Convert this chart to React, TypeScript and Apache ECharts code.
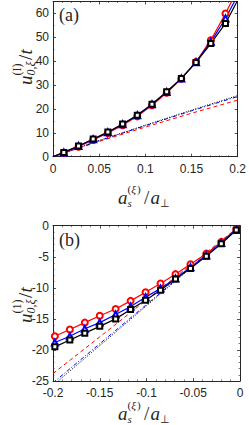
import React, { useEffect, useRef } from "react";
import * as echarts from "echarts";

// Panel (a): positive scattering length
const xA = [0.0117, 0.0276, 0.0435, 0.0594, 0.0754, 0.0913, 0.1072, 0.1231, 0.139, 0.1549, 0.1709, 0.1868];
const aRed = [1.6, 4.2, 7.0, 9.9, 13.2, 16.9, 21.5, 26.8, 32.6, 39.7, 48.8, 60.0];
const aBlue = [1.8, 4.5, 7.3, 10.2, 13.6, 17.4, 22.0, 27.1, 32.8, 39.6, 48.1, 57.9];
const aBlack = [1.8, 4.5, 7.4, 10.3, 13.7, 17.4, 22.0, 27.2, 32.8, 39.5, 47.4, 55.8];
// line continuation beyond the markers (start at origin, end at x=0.2)
const aTailX = [0, 0.2];
const aRedTail = [0, 70];
const aBlueTail = [0, 67.5];
const aBlackTail = [0, 65.5];
// approximations (a)
const approxXA = [0, 0.05, 0.1, 0.15, 0.2];
const aRedApprox = [0, 6.4, 12.4, 18.2, 23.7];
const aBlueApprox = [0, 6.7, 13.0, 19.2, 25.2];
const aBlackApprox = [0, 6.8, 13.2, 19.5, 25.6];

// Panel (b): negative scattering length
const xB = [-0.198, -0.182, -0.166, -0.150, -0.133, -0.117, -0.101, -0.085, -0.069, -0.053, -0.036, -0.020, -0.004];
const bRed = [-17.8, -16.7, -15.6, -14.5, -13.4, -12.1, -10.7, -9.3, -7.8, -6.2, -4.5, -2.6, -0.6];
const bBlue = [-18.8, -17.8, -16.6, -15.6, -14.3, -13.0, -11.5, -10.1, -8.5, -6.7, -4.8, -2.8, -0.7];
const bBlack = [-19.5, -18.4, -17.3, -16.2, -15.0, -13.5, -12.0, -10.4, -8.6, -6.9, -4.9, -2.9, -0.7];
const approxXB = [-0.2, -0.15, -0.1, -0.05, 0];
const bRedApprox = [-23.8, -17.9, -11.95, -6.0, 0];
const bBlueApprox = [-25.3, -19.0, -12.7, -6.35, 0];
const bBlackApprox = [-25.7, -19.3, -12.9, -6.45, 0];

const xTicksA = [0, 0.2, 0.05];
const yTicksA = [0, 65, 10];
const xTicksB = [-0.2, 0, 0.05];
const yTicksB = [-25, 0, 5];

const AX = "#262626";
const SANS = "'Liberation Sans', Arial, sans-serif";
const SERIF = "'Liberation Serif', 'Times New Roman', serif";

function fmt(v: number) {
  return String(+Number(v).toFixed(2));
}

function makeAxis(dim: "x" | "y", grid: number, ticks: number[], main: boolean, hideMax: boolean, minorSplit: number) {
  return {
    type: "value",
    gridIndex: grid,
    min: ticks[0],
    max: ticks[1],
    interval: ticks[2],
    position: dim === "x" ? (main ? "bottom" : "top") : main ? "left" : "right",
    axisLine: { show: true, onZero: false, lineStyle: { color: AX, width: 1 } },
    axisTick: { show: true, inside: true, length: 3, lineStyle: { color: AX, width: 0.8 } },
    minorTick: { show: true, splitNumber: minorSplit, length: 1.5, lineStyle: { color: AX, width: 0.6 } },
    splitLine: { show: false },
    minorSplitLine: { show: false },
    axisLabel: {
      show: main,
      color: AX,
      fontFamily: SANS,
      fontSize: 12,
      margin: dim === "x" ? 6 : 4,
      formatter: fmt,
      showMaxLabel: hideMax ? false : true,
      showMinLabel: true,
    },
  };
}

function withTails(xs: number[], ys: number[], tx: number[] | null, ty: number[] | null) {
  const pts: any[] = xs.map((x, i) => [x, ys[i]]);
  if (tx && ty) {
    pts.unshift({ value: [tx[0], ty[0]], symbol: "none" });
    pts.push({ value: [tx[1], ty[1]], symbol: "none" });
  }
  return pts;
}

function markerSeries(axisIdx: number, data: any[], color: string, symbol: string, size: number) {
  return {
    type: "line",
    xAxisIndex: axisIdx,
    yAxisIndex: axisIdx,
    data,
    showSymbol: true,
    showAllSymbol: true,
    symbol,
    symbolSize: size,
    itemStyle: { color, borderColor: color, borderWidth: 1 },
    lineStyle: { color, width: 1.2 },
    clip: true,
    silent: true,
  };
}

function approxSeries(axisIdx: number, xs: number[], ys: number[], color: string, type: any, width: number) {
  return {
    type: "line",
    xAxisIndex: axisIdx,
    yAxisIndex: axisIdx,
    data: xs.map((x, i) => [x, ys[i]]),
    showSymbol: false,
    symbol: "none",
    lineStyle: { color, width, type },
    clip: true,
    silent: true,
  };
}

function txt(text: string, x: number, y: number, size: number, italic: boolean, family = SERIF) {
  return {
    type: "text",
    x,
    y,
    silent: true,
    style: {
      text,
      fill: AX,
      font: `${italic ? "italic " : ""}${size}px ${family}`,
      align: "left",
      textAlign: "left",
      verticalAlign: "middle",
      textVerticalAlign: "middle",
    },
  };
}

function yTitle(cx: number, cy: number, sup: string) {
  return {
    type: "group",
    x: cx,
    y: cy,
    rotation: Math.PI / 2,
    children: [
      txt("u", -19, 0, 19, true),
      txt(sup, -9.5, -8.5, 12, false),
      txt("0,ξ", -9.5, 6, 12, true),
      txt("/", 6, 0, 19, false),
      txt("t", 11.5, 0, 19, true),
    ],
  };
}

function xTitle(cx: number, cy: number) {
  return {
    type: "group",
    x: cx,
    y: cy,
    children: [
      txt("a", -28, 0, 19, true),
      txt("s", -18.5, 5.5, 11, true),
      txt("(", -18.5, -8, 11, false),
      txt("ξ", -14.7, -8, 11, true),
      txt(")", -9, -8, 11, false),
      txt("/", -2, 0, 19, false),
      txt("a", 4.5, 0, 19, true),
      txt("⊥", 14, 5.5, 11, false),
    ],
  };
}

export default function App() {
  const ref = useRef<HTMLDivElement>(null);
  useEffect(() => {
    if (!ref.current) return;
    const chart = echarts.init(ref.current, undefined, { renderer: "svg" });
    const option: any = {
      animation: false,
      backgroundColor: "#ffffff",
      grid: [
        { left: 53, top: 1.5, width: 187.5, height: 155.2 },
        { left: 53, top: 225.7, width: 187, height: 155.3 },
      ],
      xAxis: [
        makeAxis("x", 0, xTicksA, true, false, 5),
        makeAxis("x", 0, xTicksA, false, false, 5),
        makeAxis("x", 1, xTicksB, true, false, 5),
        makeAxis("x", 1, xTicksB, false, false, 5),
      ],
      yAxis: [
        makeAxis("y", 0, yTicksA, true, true, 2),
        makeAxis("y", 0, yTicksA, false, true, 2),
        makeAxis("y", 1, yTicksB, true, false, 5),
        makeAxis("y", 1, yTicksB, false, false, 5),
      ],
      series: [
        approxSeries(0, approxXA, aRedApprox, "#ff0000", [4, 3], 1),
        approxSeries(0, approxXA, aBlueApprox, "#0000ff", [4, 2, 1, 2], 1),
        approxSeries(0, approxXA, aBlackApprox, "#000000", [1, 1.5], 1),
        markerSeries(0, withTails(xA, aRed, aTailX, aRedTail), "#ff0000", "emptyCircle", 6),
        markerSeries(0, withTails(xA, aBlue, aTailX, aBlueTail), "#0000ff", "emptyTriangle", 6),
        markerSeries(0, withTails(xA, aBlack, aTailX, aBlackTail), "#000000", "emptyRect", 5),
        approxSeries(2, approxXB, bRedApprox, "#ff0000", [4, 3], 1),
        approxSeries(2, approxXB, bBlueApprox, "#0000ff", [4, 2, 1, 2], 1),
        approxSeries(2, approxXB, bBlackApprox, "#000000", [1, 1.5], 1),
        markerSeries(2, withTails(xB, bRed, null, null), "#ff0000", "emptyCircle", 6),
        markerSeries(2, withTails(xB, bBlue, null, null), "#0000ff", "emptyTriangle", 6),
        markerSeries(2, withTails(xB, bBlack, null, null), "#000000", "emptyRect", 5),
      ],
      graphic: [
        txt("(a)", 59, 15, 18, false),
        txt("(b)", 59, 240, 18, false),
        yTitle(25, 66, "(I)"),
        yTitle(25, 304, "(1)"),
        xTitle(146, 197),
        xTitle(146, 413),
      ],
    };
    chart.setOption(option);
    return () => chart.dispose();
  }, []);
  return (
    <div
      ref={ref}
      style={{ position: "fixed", left: 0, top: 0, width: 249, height: 425, background: "#fff" }}
    />
  );
}
